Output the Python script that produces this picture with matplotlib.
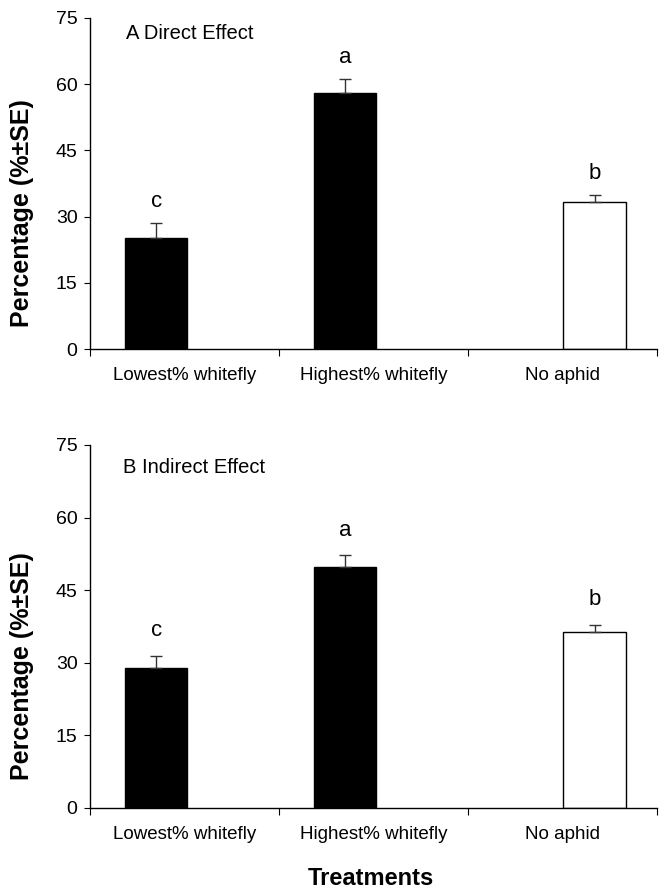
import matplotlib
matplotlib.use("Agg")
import matplotlib.pyplot as plt

plt.rcParams['font.family'] = ['Liberation Sans', 'DejaVu Sans']

categories = ["Lowest% whitefly", "Highest% whitefly", "No aphid"]
direct_mean = [25.1, 58.0, 33.2]
direct_se = [3.5, 3.2, 1.8]
indirect_mean = [29.0, 49.8, 36.3]
indirect_se = [2.5, 2.4, 1.6]
direct_letters = ["c", "a", "b"]
indirect_letters = ["c", "a", "b"]
fill_colors = ["black", "black", "white"]
panel_titles = ["A Direct Effect", "B Indirect Effect"]
yticks = [0, 15, 30, 45, 60, 75]

W, H = 664, 893
fig = plt.figure(figsize=(W / 100, H / 100), dpi=100)

def axes_px(left, top, right, bottom):
    return fig.add_axes([left / W, 1 - bottom / H, (right - left) / W, (bottom - top) / H])

ax1 = axes_px(90, 18, 657, 349)
ax2 = axes_px(90, 445, 657, 808)

offsets = [-0.15, -0.15, 0.17]
width = 0.33

def draw(ax, means, ses, letters, title, letter_gap, title_xy):
    xs = [i + o for i, o in enumerate(offsets)]
    ax.bar(xs, means, width=width, color=fill_colors, edgecolor="black", linewidth=1.0, zorder=2)
    ax.errorbar(xs, means, yerr=[[0] * len(ses), ses], fmt="none", ecolor="#333333",
                elinewidth=1.0, capsize=4, capthick=1.0, zorder=3)
    for x, m, s, l in zip(xs, means, ses, letters):
        ax.text(x, m + s + letter_gap, l, ha="center", va="center", fontsize=16)
    ax.set_xlim(-0.5, 2.5)
    ax.set_ylim(0, 75)
    ax.set_yticks(yticks)
    ax.set_yticklabels([str(t) for t in yticks], fontsize=14)
    ax.set_xticks([-0.5, 0.5, 1.5, 2.5])
    ax.set_xticklabels([])
    ax.set_xticks([0, 1, 2], minor=True)
    ax.set_xticklabels(categories, minor=True, fontsize=13.5)
    ax.tick_params(axis="x", which="minor", length=0, pad=13)
    ax.tick_params(axis="x", which="major", direction="out", length=5)
    ax.tick_params(axis="y", direction="out", length=4, pad=5)
    for s in ["top", "right"]:
        ax.spines[s].set_visible(False)
    ax.spines["left"].set_linewidth(1.0)
    ax.spines["bottom"].set_linewidth(1.0)
    ax.text(title_xy[0], title_xy[1], title, transform=ax.transAxes, fontsize=14.5,
            ha="left", va="baseline")

draw(ax1, direct_mean, direct_se, direct_letters, panel_titles[0], 4.8, (0.063, 0.938))
draw(ax2, indirect_mean, indirect_se, indirect_letters, panel_titles[1], 5.2, (0.058, 0.923))

fig.text(22 / W, 1 - 213 / H, "Percentage (%±SE)", rotation=90, fontsize=18,
         fontweight="bold", ha="center", va="center")
fig.text(22 / W, 1 - 666 / H, "Percentage (%±SE)", rotation=90, fontsize=18,
         fontweight="bold", ha="center", va="center")
fig.text(371 / W, 1 - 885 / H, "Treatments", fontsize=17, fontweight="bold",
         ha="center", va="baseline")

fig.savefig("out.png", dpi=100)
